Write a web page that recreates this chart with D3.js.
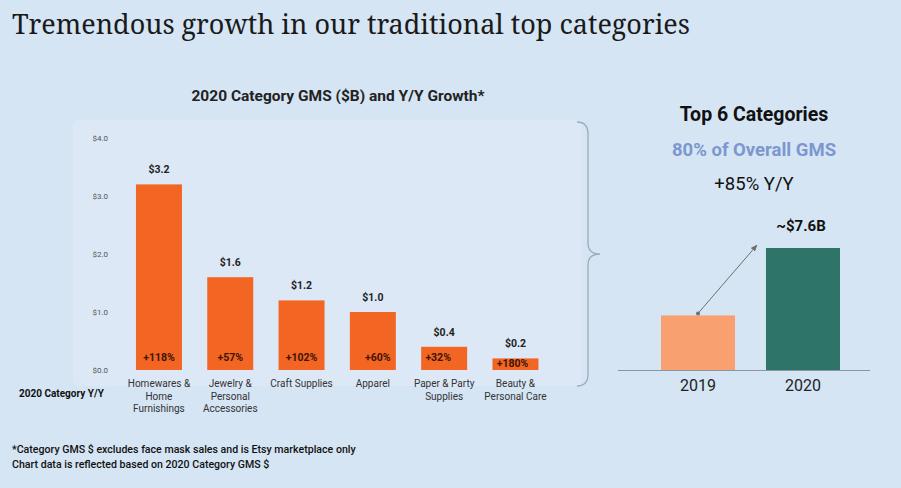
<!DOCTYPE html>
<meta charset="utf-8">
<html>
<head>
<title>Category GMS</title>
<style>
  body { margin: 0; background: #d5e5f4; }
  svg { display: block; }
</style>
</head>
<body>
<script src="https://cdn.jsdelivr.net/npm/d3@7"></script>
<svg width="901" height="488"></svg>
<script>
// data
var categories = [["Homewares &", "Home", "Furnishings"], ["Jewelry &", "Personal", "Accessories"], ["Craft Supplies"], ["Apparel"], ["Paper & Party", "Supplies"], ["Beauty &", "Personal Care"]];
var gms = [3.2, 1.6, 1.2, 1.0, 0.4, 0.2];
var growth = ["+118%", "+57%", "+102%", "+60%", "+32%", "+180%"];
var yTicks = [0, 1, 2, 3, 4];
var years = ["2019", "2020"];
var topGms = [3.4, 7.6];

var svg = d3.select("svg");
var sans = "Roboto, 'Noto Sans', sans-serif";

svg.append("text")
    .attr("x", 12).attr("y", 34)
    .style("font-family", "'Noto Serif', 'DejaVu Serif', serif")
    .style("font-size", "27px")
    .style("fill", "#1a1a1a")
    .text("Tremendous growth in our traditional top categories");

// lighter panel behind bar chart
svg.append("rect")
    .attr("x", 73).attr("y", 120).attr("width", 508).attr("height", 266)
    .attr("rx", 6)
    .style("fill", "#dce8f6");

svg.append("text")
    .attr("x", 338).attr("y", 101)
    .attr("text-anchor", "middle")
    .style("font-family", sans).style("font-weight", "bold")
    .style("font-size", "15.5px").style("fill", "#222")
    .text("2020 Category GMS ($B) and Y/Y Growth*");

var x = d3.scaleBand().domain(d3.range(gms.length)).range([123.3, 551.1]).paddingInner(0.355).paddingOuter(0.1775);
var y = d3.scaleLinear().domain([0, 4]).range([370, 138]);

var yAxis = svg.append("g")
    .attr("transform", "translate(108,0)")
    .call(d3.axisLeft(y).tickValues(yTicks).tickSize(0).tickPadding(0).tickFormat(function(d) { return "$" + d3.format(".1f")(d); }));
yAxis.select(".domain").remove();
yAxis.selectAll("text")
    .style("font-family", sans).style("font-size", "8px").style("fill", "#555");

var bars = svg.append("g").selectAll("g").data(gms).enter().append("g");

bars.append("rect")
    .attr("x", function(d, i) { return x(i); })
    .attr("y", function(d) { return y(d); })
    .attr("width", x.bandwidth())
    .attr("height", function(d) { return y(0) - y(d); })
    .style("fill", "#f26522");

bars.append("text")
    .attr("x", function(d, i) { return x(i) + x.bandwidth() / 2; })
    .attr("y", function(d) { return y(d) - 11; })
    .attr("text-anchor", "middle")
    .style("font-family", sans).style("font-weight", "bold")
    .style("font-size", "10.5px").style("fill", "#222")
    .text(function(d) { return "$" + d3.format(".1f")(d); });

var growthShift = [0, 0, 0, 5, -6, -3];
bars.append("text")
    .attr("x", function(d, i) { return x(i) + x.bandwidth() / 2 + growthShift[i]; })
    .attr("y", function(d) { return Math.max(361, y(d) + 9); })
    .attr("text-anchor", "middle")
    .style("font-family", sans).style("font-weight", "bold")
    .style("font-size", "10.5px").style("fill", "#3d1405")
    .text(function(d, i) { return growth[i]; });

bars.each(function(d, i) {
    var t = d3.select(this).append("text")
        .attr("text-anchor", "middle")
        .style("font-family", sans).style("font-size", "10px").style("fill", "#333");
    categories[i].forEach(function(line, k) {
        t.append("tspan")
            .attr("x", x(i) + x.bandwidth() / 2)
            .attr("y", 387 + k * 12.5)
            .text(line);
    });
});

svg.append("text")
    .attr("x", 19).attr("y", 397)
    .style("font-family", sans).style("font-weight", "bold")
    .style("font-size", "10px").style("fill", "#111")
    .text("2020 Category Y/Y");

// brace
var brace = d3.path();
brace.moveTo(577, 122);
brace.quadraticCurveTo(588, 122, 588, 134);
brace.lineTo(588, 243);
brace.quadraticCurveTo(588, 254, 600, 254);
brace.quadraticCurveTo(588, 254, 588, 265);
brace.lineTo(588, 374);
brace.quadraticCurveTo(588, 386, 577, 386);
svg.append("path").attr("d", brace.toString())
    .style("fill", "none").style("stroke", "#9eabb9").style("stroke-width", 1.3);

// right panel
svg.append("text")
    .attr("x", 754).attr("y", 121)
    .attr("text-anchor", "middle")
    .style("font-family", sans).style("font-weight", "bold")
    .style("font-size", "19.5px").style("fill", "#111")
    .text("Top 6 Categories");
svg.append("text")
    .attr("x", 754).attr("y", 156)
    .attr("text-anchor", "middle")
    .style("font-family", sans).style("font-weight", "bold")
    .style("font-size", "18.5px").style("fill", "#7c97cf")
    .text("80% of Overall GMS");
svg.append("text")
    .attr("x", 754).attr("y", 190)
    .attr("text-anchor", "middle")
    .style("font-family", sans)
    .style("font-size", "18.5px").style("fill", "#111")
    .text("+85% Y/Y");

var x2 = d3.scaleBand().domain(years).range([629.5, 871.5]).paddingInner(0.295).paddingOuter(0.3);
var y2 = d3.scaleLinear().domain([0, 7.6]).range([370, 248]);
var yearColors = ["#f9a071", "#2e7468"];

svg.append("g").selectAll("rect").data(topGms).enter().append("rect")
    .attr("x", function(d, i) { return x2(years[i]); })
    .attr("y", function(d) { return y2(d); })
    .attr("width", x2.bandwidth())
    .attr("height", function(d) { return y2(0) - y2(d); })
    .style("fill", function(d, i) { return yearColors[i]; });

svg.append("line")
    .attr("x1", 618).attr("x2", 870).attr("y1", 370.5).attr("y2", 370.5)
    .style("stroke", "#8a96a3").style("stroke-width", 1);

var xAxis2 = svg.append("g")
    .attr("transform", "translate(0,371)")
    .call(d3.axisBottom(x2).tickSize(0).tickPadding(9));
xAxis2.select(".domain").remove();
xAxis2.selectAll("text")
    .style("font-family", sans).style("font-size", "16px").style("fill", "#222");

svg.append("text")
    .attr("x", x2("2020") + x2.bandwidth() / 2 - 2).attr("y", 231)
    .attr("text-anchor", "middle")
    .style("font-family", sans).style("font-weight", "bold")
    .style("font-size", "15px").style("fill", "#111")
    .text("~$" + topGms[1] + "B");

// arrow
svg.append("defs").append("marker")
    .attr("id", "ah").attr("viewBox", "0 0 10 10")
    .attr("refX", 9).attr("refY", 5)
    .attr("markerWidth", 7).attr("markerHeight", 7)
    .attr("orient", "auto")
    .append("path").attr("d", "M0,1L10,5L0,9Z").style("fill", "#6e6e6e");

var ax1 = x2("2019") + x2.bandwidth() / 2, ay1 = y2(topGms[0]) - 2;
svg.append("circle").attr("cx", ax1).attr("cy", ay1).attr("r", 2).style("fill", "#6e6e6e");
svg.append("line")
    .attr("x1", ax1).attr("y1", ay1)
    .attr("x2", x2("2020") - 9).attr("y2", y2(topGms[1]) - 3)
    .attr("marker-end", "url(#ah)")
    .style("stroke", "#6e6e6e").style("stroke-width", 1);

// footnotes
var notes = ["*Category GMS $ excludes face mask sales and is Etsy marketplace only", "Chart data is reflected based on 2020 Category GMS $"];
svg.append("g").selectAll("text").data(notes).enter().append("text")
    .attr("x", 12).attr("y", function(d, i) { return 453 + i * 15; })
    .style("font-family", sans).style("font-size", "10.6px").style("font-weight", 500).style("fill", "#111")
    .text(function(d) { return d; });
</script>
</body>
</html>
